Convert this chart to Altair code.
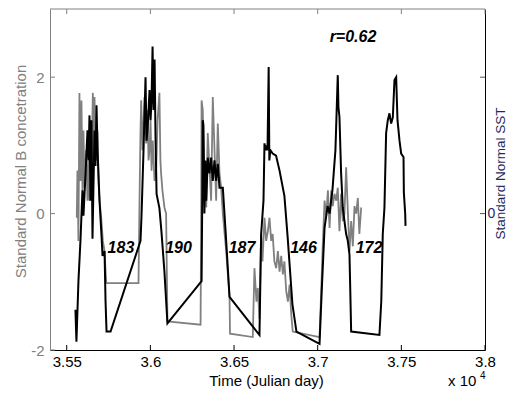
import altair as alt
import pandas as pd

# ---------------- data ----------------
gray_day = [35560, 35564, 35570, 35576, 35582, 35588, 35594, 35600, 35606, 35616,
            35624, 35630, 35636, 35642, 35648, 35656, 35660, 35666, 35672, 35676,
            35684, 35690, 35696, 35706, 35716, 35726, 35736, 35929,
            35935, 35941, 35945, 35953, 35965, 35975, 35983, 35989, 35995, 36001,
            36007, 36014, 36025, 36035, 36043, 36054, 36060, 36064, 36072, 36084,
            36094, 36102, 36300,
            36304, 36306, 36313, 36323, 36334, 36343, 36353, 36363, 36373, 36380,
            36393, 36403, 36413, 36423, 36433, 36453, 36473, 36476, 36612,
            36622, 36634, 36642, 36652, 36662, 36670, 36682, 36692, 36702, 36712,
            36722, 36731, 36741, 36752, 36762, 36772, 36782, 36792, 36801, 36812,
            36822, 36832, 36842, 36851, 37011,
            37021, 37029, 37041, 37051, 37061, 37071, 37081, 37090, 37100, 37111,
            37120, 37130, 37140, 37150, 37160, 37170, 37180, 37190, 37200, 37210,
            37220, 37230, 37240, 37249, 37260]
gray_val = [-0.06, 0.63, -0.40, 1.77, 0.48, 1.66, 0.34, 1.22, 0.38, 0.93,
            0.19, 0.78, 0.19, 1.07, 0.56, 1.77, 0.78, 1.71, 0.93, 0.78,
            1.22, 0.48, 0.19, -0.06, -0.40, -0.55, -1.02, -1.02,
            0.19, 1.22, 1.66, 0.93, 1.71, 1.03, 1.52, 0.78, 0.93, 1.37,
            0.63, 1.07, 0.48, 0.68, 1.37, 1.77, 0.78, 0.59, 0.34, 0.09,
            0.00, -1.58, -1.63,
            0.19, 1.66, 1.52, 0.48, 0.09, 1.18, 0.68, 0.19, 1.71, 1.18,
            0.19, 1.32, 0.59, 0.38, 0.00, -0.55, -1.22, -1.76, -1.81,
            -0.80, -1.29, -1.09, -1.54, -0.30, -0.70, -0.06, -0.40, -0.26, -0.06,
            -0.40, -0.30, -0.70, -0.80, -0.55, -0.85, -0.62, -0.89, -0.70, -1.14,
            -1.29, -1.04, -1.48, -1.73, -1.81,
            -1.14, -0.55, 0.19, -0.03, 0.34, -0.21, 0.34, 0.11, 0.29, 0.19,
            0.38, -0.26, 0.29, -0.11, 0.00, 0.68, 0.04, -0.55, -0.11, -0.48,
            0.11, 0.00, 0.23, -0.30, 0.09]

black_day = [35552, 35558, 35570, 35582, 35594, 35600, 35612, 35624, 35630, 35636,
             35642, 35648, 35654, 35666, 35672, 35678, 35684, 35696, 35708, 35714,
             35726, 35732, 35738, 35762, 35941,
             35947, 35959, 35971, 35977, 35983, 35995, 36001, 36007, 36013, 36019,
             36025, 36031, 36037, 36054, 36066, 36084, 36102, 36306,
             36310, 36313, 36317, 36323, 36329, 36334, 36343, 36353, 36363, 36373,
             36383, 36393, 36403, 36413, 36433, 36453, 36473, 36652,
             36662, 36676, 36682, 36688, 36694, 36700, 36707, 36711, 36717, 36731,
             36751, 36772, 36801, 36820, 36849, 36873, 37011,
             37024, 37041, 37059, 37071, 37088, 37106, 37120, 37124, 37130, 37140,
             37150, 37160, 37170, 37180, 37190, 37194, 37200, 37369,
             37380, 37389, 37399, 37409, 37419, 37429, 37439, 37449, 37459, 37469,
             37477, 37489, 37499, 37507, 37513, 37515, 37523, 37525]
black_val = [-1.41, -1.88, -0.99, -0.40, 0.34, -0.03, 0.56, 1.22, 0.78, 1.44,
             0.19, 1.37, -0.37, 1.22, 0.70, 1.59, 0.93, 0.19, -0.33, -0.62,
             -0.55, -1.29, -1.73, -1.73, -0.40,
             -0.03, 0.93, 2.00, 1.07, 1.22, 1.81, 1.37, 1.66, 2.45, 1.52,
             2.26, 1.07, 0.29, 0.08, -0.26, -0.85, -1.61, -0.99,
             0.19, 1.37, 1.30, 0.00, 0.78, 0.19, 0.82, 0.59, 0.82, 0.48,
             0.78, 0.48, 0.73, 0.38, 0.38, -0.40, -1.22, -1.78,
             -0.30, 0.19, 1.03, 0.93, 1.00, 0.93, 2.15, 0.78, 0.93, 0.88,
             0.85, 0.63, 0.26, -0.33, -1.33, -1.73, -1.91,
             -1.14, -0.21, 0.11, 0.00, 0.34, 0.93, 2.03, 1.56, 1.42, 0.59,
             0.09, -0.11, -0.30, -0.40, -0.60, -1.04, -1.73, -1.78,
             -1.29, -0.30, 0.09, 1.18, 1.37, 1.47, 1.32, 1.41, 1.96, 2.00,
             1.37, 1.07, 0.88, 0.85, 0.83, 0.31, 0.00, -0.18]

x_ticks = [35500, 36000, 36500, 37000, 37500, 38000]
left_ticks = [-2, 0, 2]
right_ticks = [0, 2]

gap_day = [35824, 36168, 36548, 36915, 37307]
gap_val = [-0.51, -0.51, -0.51, -0.51, -0.51]
gap_text = ["183", "190", "187", "146", "172"]

r_day = [37211]
r_val = [2.59]
r_text = ["r=0.62"]

# ---------------- styling ----------------
W, H = 435, 341
FONT = "Liberation Sans"
GRAY = "#808080"
NAVY = "#1f2a5c"

xscale = alt.Scale(domain=[35400, 38000], nice=False, zero=False)
yscale = alt.Scale(domain=[-2, 3], nice=False, zero=False)

xaxis = alt.Axis(values=x_ticks, labelExpr="format(datum.value / 10000, '.2~f')",
                 ticks=False, grid=False, domainColor="black", labelColor="black",
                 labelFont=FONT, labelFontSize=15, labelPadding=4, labelFlush=False,
                 labelOverlap=False, title="Time (Julian day)", titleFont=FONT,
                 titleFontSize=15, titleFontWeight="normal", titleColor="black",
                 titleBaseline="alphabetic", titleY=35, titleX=216)

laxis = alt.Axis(values=left_ticks, labelExpr="datum.value < 0 ? '-' + abs(datum.value) : '' + datum.value",
                 ticks=False, grid=False, domainColor=GRAY, labelColor=GRAY,
                 labelFont=FONT, labelFontSize=15, labelPadding=6,
                 title="Standard Normal B concetration", titleColor=GRAY, titleFont=FONT,
                 titleFontSize=15, titleFontWeight="normal", titleAngle=270,
                 titleBaseline="alphabetic", titleAlign="center", titleX=-25, titleY=162)

raxis = alt.Axis(orient="right", values=right_ticks, labelExpr="datum.value == 0 ? '0' : ''",
                 ticks=False, grid=False, domainColor="black", labelColor=NAVY,
                 labelFont=FONT, labelFontSize=14, labelPadding=2,
                 title="Standard Normal SST", titleColor=NAVY, titleFont=FONT,
                 titleFontSize=13.5, titleFontWeight="normal", titleAngle=270,
                 titleBaseline="alphabetic", titleAlign="center", titleX=19.5, titleY=164)

X = lambda f: alt.X(f, scale=xscale, axis=xaxis)

gray_df = pd.DataFrame({"day": gray_day, "val": gray_val, "i": range(len(gray_day))})
black_df = pd.DataFrame({"day": black_day, "val": black_val, "i": range(len(black_day))})
gap_df = pd.DataFrame({"day": gap_day, "val": gap_val, "t": gap_text})
r_df = pd.DataFrame({"day": r_day, "val": r_val, "t": r_text})
one = pd.DataFrame({"a": [0]})

gray_line = alt.Chart(gray_df).mark_line(color=GRAY, strokeWidth=1.8).encode(
    x=X("day:Q"), y=alt.Y("val:Q", scale=yscale, axis=laxis), order="i:Q")

gap_lbl = alt.Chart(gap_df).mark_text(font=FONT, fontSize=16, fontWeight="bold",
                                      fontStyle="italic", color="black").encode(
    x=X("day:Q"), y=alt.Y("val:Q", scale=yscale, axis=laxis), text="t:N")

r_lbl = alt.Chart(r_df).mark_text(font=FONT, fontSize=16, fontWeight="bold",
                                  fontStyle="italic", color="black").encode(
    x=X("day:Q"), y=alt.Y("val:Q", scale=yscale, axis=laxis), text="t:N")

lt = alt.Chart(pd.DataFrame({"v": left_ticks})).mark_rule(color=GRAY).encode(
    y=alt.Y("v:Q", scale=yscale, axis=laxis), x=alt.value(0), x2=alt.value(5))

bt = alt.Chart(pd.DataFrame({"t": x_ticks})).mark_rule(color="black").encode(
    x=X("t:Q"), y=alt.value(H - 5), y2=alt.value(H))

tt = alt.Chart(pd.DataFrame({"t": x_ticks})).mark_rule(color=GRAY).encode(
    x=X("t:Q"), y=alt.value(0), y2=alt.value(5))

top_border = alt.Chart(one).mark_rule(color=GRAY).encode(
    x=alt.value(0), x2=alt.value(W), y=alt.value(0))

exp_base = alt.Chart(one).mark_text(text="x 10", align="left", baseline="alphabetic",
                                    font=FONT, fontSize=15, color="black").encode(
    x=alt.value(398), y=alt.value(377))
exp_sup = alt.Chart(one).mark_text(text="4", align="left", baseline="alphabetic",
                                   font=FONT, fontSize=10, color="black").encode(
    x=alt.value(430), y=alt.value(370))

black_line = alt.Chart(black_df).mark_line(color="black", strokeWidth=2).encode(
    x=X("day:Q"), y=alt.Y("val:Q", scale=yscale, axis=raxis), order="i:Q")

rt = alt.Chart(pd.DataFrame({"v": right_ticks})).mark_rule(color="#555555").encode(
    y=alt.Y("v:Q", scale=yscale, axis=raxis), x=alt.value(W - 5), x2=alt.value(W))

group_a = alt.layer(gray_line, gap_lbl, r_lbl, lt, bt, tt, top_border, exp_base, exp_sup)
group_b = alt.layer(black_line, rt)

chart = alt.layer(group_a, group_b).resolve_scale(y="independent").properties(
    width=W, height=H,
    autosize=alt.AutoSizeParams(type="none"),
    padding={"left": 42, "top": 1, "right": 22, "bottom": 39},
    background="white",
).configure_view(stroke=None)

chart.save("out.html", embed_options={"renderer": "svg", "actions": False})
